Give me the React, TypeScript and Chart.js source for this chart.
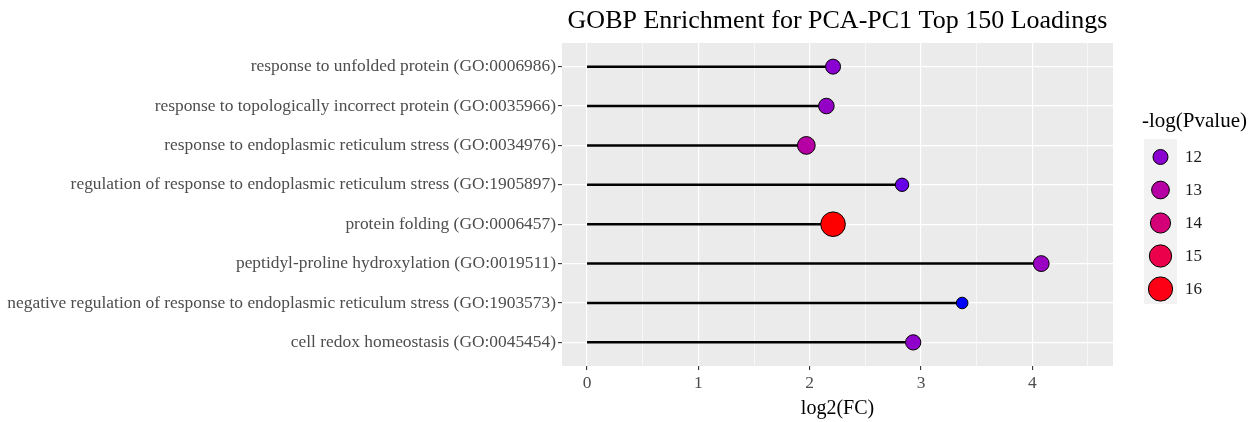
import React, { useEffect, useRef } from "react";
import { Chart, registerables } from "chart.js";

Chart.register(...registerables);

const categories = [
  "response to unfolded protein (GO:0006986)",
  "response to topologically incorrect protein (GO:0035966)",
  "response to endoplasmic reticulum stress (GO:0034976)",
  "regulation of response to endoplasmic reticulum stress (GO:1905897)",
  "protein folding (GO:0006457)",
  "peptidyl-proline hydroxylation (GO:0019511)",
  "negative regulation of response to endoplasmic reticulum stress (GO:1903573)",
  "cell redox homeostasis (GO:0045454)",
];
const log2FC = [2.21, 2.15, 1.97, 2.83, 2.21, 4.08, 3.37, 2.93];
const negLogP = [12.0, 12.2, 13.0, 11.5, 16.2, 12.3, 11.0, 12.1];
const legendBreaks = [12, 13, 14, 15, 16];
const xTicks = [0, 0.5, 1, 1.5, 2, 2.5, 3, 3.5, 4, 4.5];

const TITLE = "GOBP Enrichment for PCA-PC1 Top 150 Loadings";
const X_TITLE = "log2(FC)";
const LEGEND_TITLE = "-log(Pvalue)";
const SERIF = "'Liberation Serif', 'Times New Roman', serif";

const pMin = Math.min(...negLogP);
const pMax = Math.max(...negLogP);

// ---- Lab colour interpolation (like ggplot's gradient) ----
function srgbToLin(c: number) {
  c /= 255;
  return c <= 0.04045 ? c / 12.92 : Math.pow((c + 0.055) / 1.055, 2.4);
}
function linToSrgb(c: number) {
  const v = c <= 0.0031308 ? 12.92 * c : 1.055 * Math.pow(c, 1 / 2.4) - 0.055;
  return Math.max(0, Math.min(255, Math.round(v * 255)));
}
const WX = 0.95047, WY = 1.0, WZ = 1.08883;
function f(t: number) {
  return t > 0.008856 ? Math.cbrt(t) : 7.787 * t + 16 / 116;
}
function finv(t: number) {
  return t * t * t > 0.008856 ? t * t * t : (t - 16 / 116) / 7.787;
}
function rgbToLab([r, g, b]: number[]) {
  const R = srgbToLin(r), G = srgbToLin(g), B = srgbToLin(b);
  const X = (R * 0.4124 + G * 0.3576 + B * 0.1805) / WX;
  const Y = (R * 0.2126 + G * 0.7152 + B * 0.0722) / WY;
  const Z = (R * 0.0193 + G * 0.1192 + B * 0.9505) / WZ;
  const fx = f(X), fy = f(Y), fz = f(Z);
  return [116 * fy - 16, 500 * (fx - fy), 200 * (fy - fz)];
}
function labToRgb([L, a, b]: number[]) {
  const fy = (L + 16) / 116;
  const fx = fy + a / 500;
  const fz = fy - b / 200;
  const X = finv(fx) * WX, Y = finv(fy) * WY, Z = finv(fz) * WZ;
  const R = X * 3.2406 + Y * -1.5372 + Z * -0.4986;
  const G = X * -0.9689 + Y * 1.8758 + Z * 0.0415;
  const B = X * 0.0557 + Y * -0.204 + Z * 1.057;
  return [linToSrgb(R), linToSrgb(G), linToSrgb(B)];
}
const LOW = rgbToLab([0, 0, 255]);
const HIGH = rgbToLab([255, 0, 0]);
function colorFor(v: number) {
  const t = Math.max(0, Math.min(1, (v - pMin) / (pMax - pMin)));
  const lab = LOW.map((l, i) => l + (HIGH[i] - l) * t);
  const [r, g, b] = labToRgb(lab);
  return `rgb(${r},${g},${b})`;
}
function radiusFor(v: number) {
  return Math.sqrt(33.6 + 22.6 * (v - pMin));
}

const panelBg = {
  id: "panelBg",
  beforeDraw(chart: any) {
    const { ctx, chartArea: a } = chart;
    ctx.save();
    ctx.fillStyle = "#EBEBEB";
    ctx.fillRect(a.left, a.top, a.right - a.left, a.bottom - a.top);
    ctx.restore();
  },
};

const sizeColorLegend = {
  id: "sizeColorLegend",
  afterDraw(chart: any) {
    const ctx = chart.ctx;
    ctx.save();
    ctx.fillStyle = "#000";
    ctx.font = `21px ${SERIF}`;
    ctx.textAlign = "left";
    ctx.textBaseline = "middle";
    ctx.fillText(LEGEND_TITLE, 1142, 121);
    ctx.fillStyle = "#F2F2F2";
    ctx.fillRect(1144, 139, 33, 165);
    legendBreaks.forEach((v, i) => {
      const cy = 157 + 33 * i;
      ctx.beginPath();
      ctx.arc(1160.5, cy, radiusFor(v), 0, Math.PI * 2);
      ctx.fillStyle = colorFor(v);
      ctx.fill();
      ctx.lineWidth = 1;
      ctx.strokeStyle = "#000";
      ctx.stroke();
      ctx.fillStyle = "#1A1A1A";
      ctx.font = `17px ${SERIF}`;
      ctx.fillText(String(v), 1185, cy + 1);
    });
    ctx.restore();
  },
};

export default function App() {
  const ref = useRef<HTMLCanvasElement | null>(null);
  useEffect(() => {
    document.body.style.margin = "0";
    if (!ref.current) return;
    const segDatasets = categories.map((_, i) => ({
      type: "scatter" as const,
      data: [
        { x: 0, y: i },
        { x: log2FC[i], y: i },
      ],
      showLine: true,
      borderColor: "#000",
      borderWidth: 2.5,
      pointRadius: 0,
      order: 2,
    }));
    const pointDataset = {
      type: "scatter" as const,
      data: categories.map((_, i) => ({ x: log2FC[i], y: i })),
      pointRadius: negLogP.map(radiusFor),
      pointHoverRadius: negLogP.map(radiusFor),
      backgroundColor: negLogP.map(colorFor),
      borderColor: "#000",
      borderWidth: 1,
      order: 1,
    };
    const chart = new Chart(ref.current, {
      type: "scatter",
      data: { datasets: [...segDatasets, pointDataset] as any },
      plugins: [panelBg, sizeColorLegend],
      options: {
        animation: false,
        responsive: false,
        layout: { padding: { left: 0, right: 145, top: 0, bottom: 0 } },
        plugins: {
          legend: { display: false },
          tooltip: { enabled: false },
          title: {
            display: true,
            text: TITLE,
            fullSize: false,
            color: "#000",
            font: { family: SERIF, size: 26, weight: "normal" },
            padding: { top: 6, bottom: 5.8 },
          },
        },
        scales: {
          x: {
            type: "linear",
            min: -0.225,
            max: 4.725,
            afterBuildTicks: (s: any) => {
              s.ticks = xTicks.map((v) => ({ value: v }));
            },
            afterFit: (s: any) => {
              s.height = 56;
            },
            border: { display: false },
            grid: {
              color: "#FFFFFF",
              lineWidth: (c: any) => (c.tick && c.tick.value % 1 === 0 ? 1.2 : 0.6),
              drawTicks: true,
              tickLength: 4,
              tickColor: (c: any) =>
                c.tick && c.tick.value % 1 === 0 ? "#333333" : "rgba(0,0,0,0)",
              tickWidth: 1.1,
            },
            ticks: {
              autoSkip: false,
              maxRotation: 0,
              padding: 3,
              color: "#4D4D4D",
              font: { family: SERIF, size: 17.4 },
              callback: (v: any) => (Number(v) % 1 === 0 ? String(v) : ""),
            },
            title: {
              display: true,
              text: X_TITLE,
              color: "#000",
              font: { family: SERIF, size: 20 },
              padding: { top: 0, bottom: 1 },
            },
          },
          y: {
            type: "linear",
            min: -0.6,
            max: categories.length - 1 + 0.6,
            reverse: true,
            afterBuildTicks: (s: any) => {
              s.ticks = categories.map((_, i) => ({ value: i }));
            },
            afterFit: (s: any) => {
              s.width = 562;
            },
            border: { display: false },
            grid: {
              color: "#FFFFFF",
              lineWidth: 1.2,
              drawTicks: true,
              tickLength: 4,
              tickColor: "#333333",
              tickWidth: 1.1,
            },
            ticks: {
              autoSkip: false,
              padding: 2,
              color: "#4D4D4D",
              font: { family: SERIF, size: 17.4 },
              callback: (v: any) => categories[Number(v)] ?? "",
            },
          },
        },
      },
    });
    return () => chart.destroy();
  }, []);
  return (
    <div style={{ position: "absolute", left: 0, top: 0, width: 1258, height: 422 }}>
      <canvas ref={ref} width={1258} height={422} style={{ width: 1258, height: 422 }} />
    </div>
  );
}
